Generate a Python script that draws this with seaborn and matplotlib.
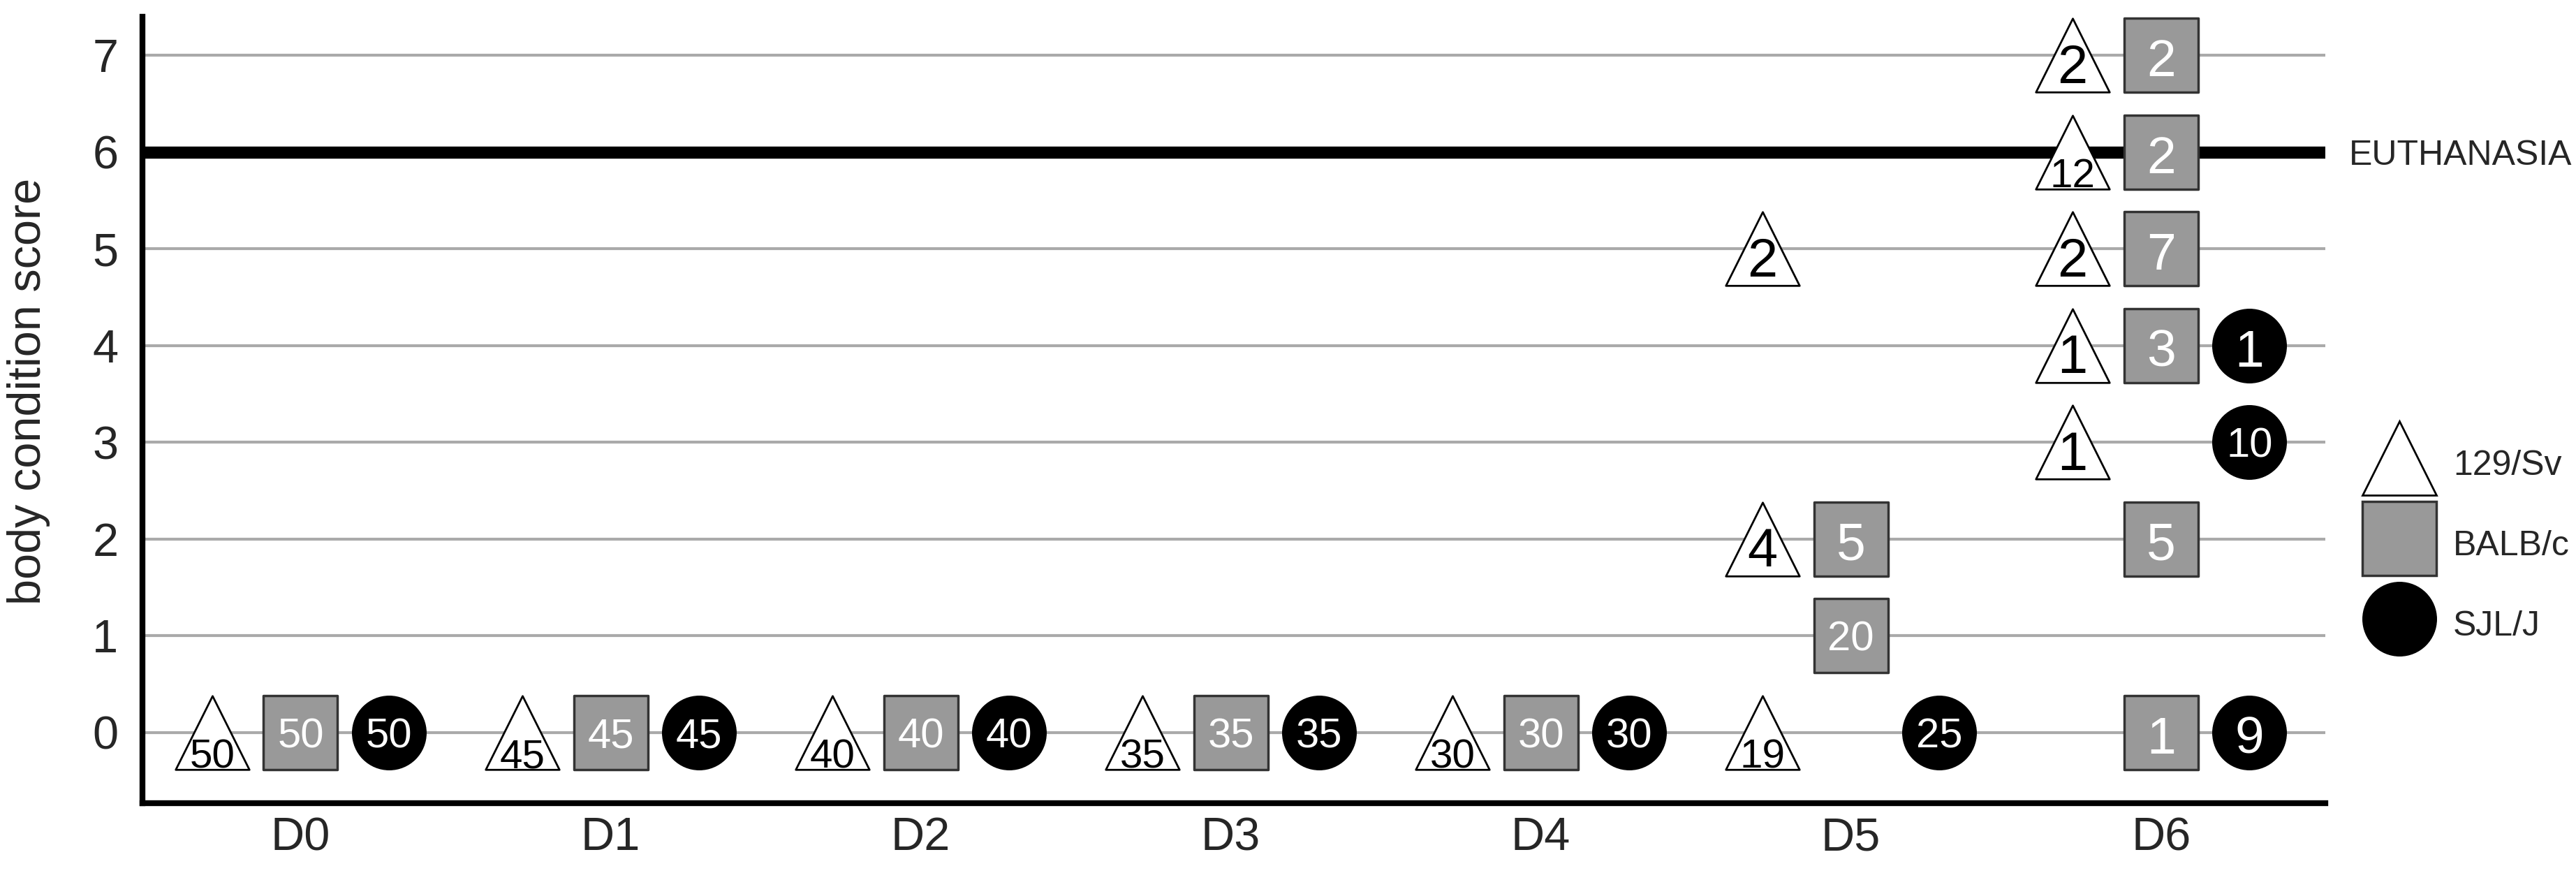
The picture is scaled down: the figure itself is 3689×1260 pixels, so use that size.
import pandas as pd
import seaborn as sns
import matplotlib.pyplot as plt
from matplotlib.lines import Line2D

days = ["D0", "D1", "D2", "D3", "D4", "D5", "D6"]
strains = ["129/Sv", "BALB/c", "SJL/J"]

# 129/Sv - open triangles
sv_day = ["D0", "D1", "D2", "D3", "D4", "D5", "D5", "D5", "D6", "D6", "D6", "D6", "D6"]
sv_score = [0, 0, 0, 0, 0, 0, 2, 5, 3, 4, 5, 6, 7]
sv_count = [50, 45, 40, 35, 30, 19, 4, 2, 1, 1, 2, 12, 2]

# BALB/c - grey squares
balb_day = ["D0", "D1", "D2", "D3", "D4", "D5", "D5", "D6", "D6", "D6", "D6", "D6", "D6"]
balb_score = [0, 0, 0, 0, 0, 1, 2, 0, 2, 4, 5, 6, 7]
balb_count = [50, 45, 40, 35, 30, 20, 5, 1, 5, 3, 7, 2, 2]

# SJL/J - black circles
sjl_day = ["D0", "D1", "D2", "D3", "D4", "D5", "D6", "D6", "D6"]
sjl_score = [0, 0, 0, 0, 0, 0, 0, 3, 4]
sjl_count = [50, 45, 40, 35, 30, 25, 9, 10, 1]

euthanasia_score = 6

frames = []
for strain, d, s, c in [("129/Sv", sv_day, sv_score, sv_count),
                        ("BALB/c", balb_day, balb_score, balb_count),
                        ("SJL/J", sjl_day, sjl_score, sjl_count)]:
    part = pd.DataFrame({"day": d, "score": s, "count": c})
    part["strain"] = strain
    frames.append(part)
df = pd.concat(frames, ignore_index=True)

# dodge the three strains around each day
offsets = {"129/Sv": -0.285, "BALB/c": 0.0, "SJL/J": 0.285}
df["x"] = df["day"].map(days.index) + df["strain"].map(offsets)

styles = {
    "129/Sv": dict(marker="^", face="white", edge="black", lw=2, text="black"),
    "BALB/c": dict(marker="s", face="#999999", edge="#333333", lw=2.5, text="white"),
    "SJL/J": dict(marker="o", face="black", edge="black", lw=1, text="white"),
}
msize = 76  # points

sns.set_style("white")
plt.rcParams["font.family"] = ["Liberation Sans", "DejaVu Sans"]

fig, ax = plt.subplots(figsize=(36.89, 12.6), dpi=100)
fig.subplots_adjust(left=0.0553, right=0.9027, bottom=0.0873, top=0.981)

ax.axhline(euthanasia_score, color="black", linewidth=12.5, zorder=3)

for strain in strains:
    sub = df[df["strain"] == strain]
    st = styles[strain]
    sns.scatterplot(data=sub, x="x", y="score", marker=st["marker"], color=st["face"],
                    edgecolor=st["edge"], linewidth=st["lw"], s=msize ** 2,
                    zorder=4, legend=False, ax=ax)
    for _, r in sub.iterrows():
        txt = str(r["count"])
        if strain == "129/Sv":
            fs, dy = (42, -21) if len(txt) > 1 else (56, -8)
        else:
            fs, dy = (43, 0) if len(txt) > 1 else (54, -2)
        ax.annotate(txt, (r["x"], r["score"]), xytext=(0, dy), textcoords="offset points",
                    ha="center", va="center_baseline", fontsize=fs, color=st["text"], zorder=6)

ax.annotate("EUTHANASIA", xy=(1, euthanasia_score), xycoords=ax.get_yaxis_transform(),
            xytext=(24, 0), textcoords="offset points", ha="left", va="center_baseline",
            fontsize=36, annotation_clip=False)

ax.set_xlim(-0.51, 6.53)
ax.set_ylim(-0.73, 7.4)
ax.set_xticks(range(len(days)), days)
ax.set_yticks(range(8))
ax.tick_params(axis="both", length=0, labelsize=48)
ax.tick_params(axis="y", pad=25)
ax.tick_params(axis="x", pad=14)
ax.set_xlabel("")
ax.set_ylabel("body condition score", fontsize=48)
ax.yaxis.set_label_coords(-0.0422, 0.524)

ax.grid(axis="y", color="#aaaaaa", linewidth=3)
ax.grid(axis="x", visible=False)
ax.set_axisbelow(True)
for side in ["top", "right"]:
    ax.spines[side].set_visible(False)
for side in ["left", "bottom"]:
    ax.spines[side].set_color("black")
    ax.spines[side].set_linewidth(6)

handles = [Line2D([], [], linestyle="none", marker=styles[s]["marker"], markersize=msize,
                  markerfacecolor=styles[s]["face"], markeredgecolor=styles[s]["edge"],
                  markeredgewidth=styles[s]["lw"]) for s in strains]
fig.legend(handles, strains, loc="center left", bbox_to_anchor=(0.9179, 0.3825),
           frameon=False, fontsize=36, handlelength=2, handleheight=1.5,
           handletextpad=0.54, labelspacing=1.08, borderpad=0, borderaxespad=0)

fig.savefig("out.png", dpi=100)
